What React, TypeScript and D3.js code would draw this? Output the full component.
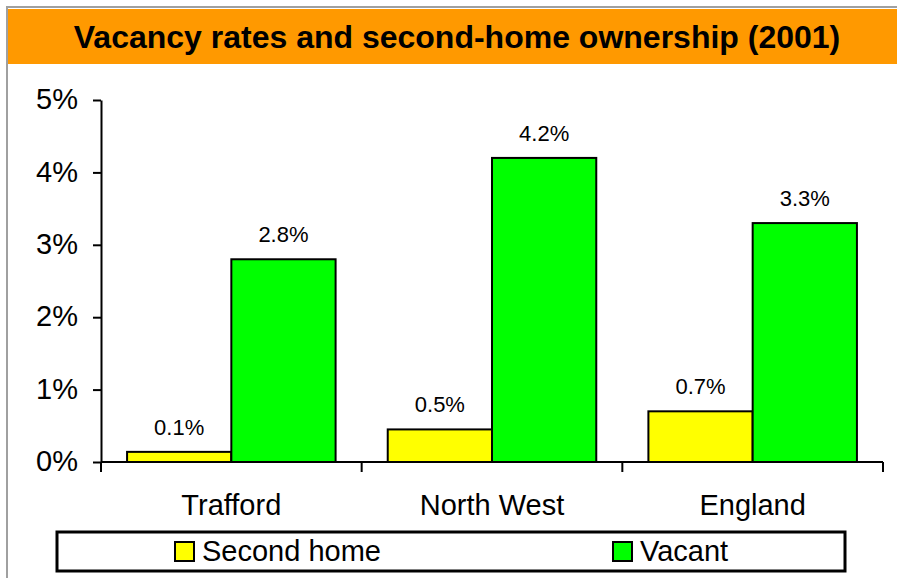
import { useRef, useEffect } from "react";
import * as d3 from "d3";

// chart data
const regions = ["Trafford", "North West", "England"];
const seriesNames = ["Second home", "Vacant"];
const secondHome = [0.14, 0.45, 0.7];
const vacant = [2.8, 4.2, 3.3];
const yTicks = [0, 1, 2, 3, 4, 5];
const seriesColors = ["#ffff00", "#00ff00"];

const TITLE = "Vacancy rates and second-home ownership (2001)";
const FONT = "'Liberation Sans', Arial, sans-serif";

interface BarDatum {
  region: string;
  series: string;
  value: number;
  color: string;
}

const App = () => {
  const svgRef = useRef<SVGSVGElement>(null);

  useEffect(() => {
    document.body.style.margin = "0";
    if (!svgRef.current) return;

    const svg = d3.select(svgRef.current);
    const width = 897;
    const height = 578;
    const plot = { left: 101, right: 883, top: 100, bottom: 462 };

    // frame + title band
    svg
      .append("rect")
      .attr("x", 7)
      .attr("y", 7)
      .attr("width", width)
      .attr("height", height)
      .attr("fill", "#fff")
      .attr("stroke", "#a0a0a0")
      .attr("stroke-width", 2);

    svg
      .append("rect")
      .attr("x", 8)
      .attr("y", 9)
      .attr("width", width - 8)
      .attr("height", 55)
      .attr("fill", "#ff9900");

    svg
      .append("text")
      .attr("x", 457)
      .attr("y", 48)
      .attr("text-anchor", "middle")
      .style("font-family", FONT)
      .style("font-size", "32px")
      .style("font-weight", "bold")
      .attr("fill", "#000")
      .text(TITLE);

    const x0 = d3
      .scaleBand()
      .domain(regions)
      .range([plot.left, plot.right])
      .padding(0);

    const x1 = d3
      .scaleBand()
      .domain(seriesNames)
      .range([0, x0.bandwidth()])
      .paddingInner(0)
      .paddingOuter(0.25);

    const y = d3.scaleLinear().domain([0, 5]).range([plot.bottom, plot.top]);

    // y axis
    const yAxis = d3
      .axisLeft(y)
      .tickValues(yTicks)
      .tickSize(8)
      .tickPadding(15)
      .tickSizeOuter(0)
      .tickFormat((d) => `${d}%`);

    svg
      .append("g")
      .attr("transform", `translate(${plot.left},0)`)
      .call(yAxis)
      // eslint-disable-next-line @typescript-eslint/no-explicit-any
      .call((g: any) => {
        g.select(".domain").attr("stroke", "#000").attr("stroke-width", 2);
        g.selectAll(".tick line").attr("stroke", "#000").attr("stroke-width", 2);
        g.selectAll("text")
          .attr("fill", "#000")
          .attr("dy", "0.3em")
          .style("font-family", FONT)
          .style("font-size", "29px");
      });

    // x axis: ticks sit on the category boundaries
    const boundaries = [...regions.map((r) => x0(r)!), plot.right];
    const xg = svg.append("g");
    xg.append("line")
      .attr("x1", plot.left)
      .attr("x2", plot.right)
      .attr("y1", plot.bottom)
      .attr("y2", plot.bottom)
      .attr("stroke", "#000")
      .attr("stroke-width", 2);
    xg.selectAll(".xtick")
      .data(boundaries)
      .enter()
      .append("line")
      .attr("x1", (d: number) => d)
      .attr("x2", (d: number) => d)
      .attr("y1", plot.bottom)
      .attr("y2", plot.bottom + 10)
      .attr("stroke", "#000")
      .attr("stroke-width", 2);
    xg.selectAll(".xlabel")
      .data(regions)
      .enter()
      .append("text")
      .attr("x", (d: string) => x0(d)! + x0.bandwidth() / 2)
      .attr("y", 515)
      .attr("text-anchor", "middle")
      .style("font-family", FONT)
      .style("font-size", "29px")
      .attr("fill", "#000")
      .text((d: string) => d);

    // bars
    const bars: BarDatum[] = [];
    regions.forEach((r, i) => {
      bars.push({ region: r, series: seriesNames[0], value: secondHome[i], color: seriesColors[0] });
      bars.push({ region: r, series: seriesNames[1], value: vacant[i], color: seriesColors[1] });
    });

    const barX = (d: BarDatum) => x0(d.region)! + x1(d.series)!;

    svg
      .append("g")
      .selectAll("rect")
      .data(bars)
      .enter()
      .append("rect")
      .attr("x", barX)
      .attr("y", (d: BarDatum) => y(d.value))
      .attr("width", x1.bandwidth())
      .attr("height", (d: BarDatum) => plot.bottom - y(d.value))
      .attr("fill", (d: BarDatum) => d.color)
      .attr("stroke", "#000")
      .attr("stroke-width", 2);

    svg
      .append("g")
      .selectAll("text")
      .data(bars)
      .enter()
      .append("text")
      .attr("x", (d: BarDatum) => barX(d) + x1.bandwidth() / 2)
      .attr("y", (d: BarDatum) => y(d.value) - 17)
      .attr("text-anchor", "middle")
      .style("font-family", FONT)
      .style("font-size", "22px")
      .attr("fill", "#000")
      .text((d: BarDatum) => `${d.value.toFixed(1)}%`);

    // legend
    const legend = svg.append("g");
    legend
      .append("rect")
      .attr("x", 57)
      .attr("y", 532)
      .attr("width", 788)
      .attr("height", 39)
      .attr("fill", "#fff")
      .attr("stroke", "#000")
      .attr("stroke-width", 3);

    const legendX = [175, 613];
    seriesNames.forEach((name, i) => {
      legend
        .append("rect")
        .attr("x", legendX[i])
        .attr("y", 542)
        .attr("width", 19)
        .attr("height", 19)
        .attr("fill", seriesColors[i])
        .attr("stroke", "#000")
        .attr("stroke-width", 2);
      legend
        .append("text")
        .attr("x", legendX[i] + 27)
        .attr("y", 561)
        .style("font-family", FONT)
        .style("font-size", "29px")
        .attr("fill", "#000")
        .text(name);
    });

    return () => {
      svg.selectAll("*").remove();
    };
  }, []);

  return (
    <svg
      ref={svgRef}
      width={897}
      height={578}
      style={{ display: "block" }}
    ></svg>
  );
};

export default App;
